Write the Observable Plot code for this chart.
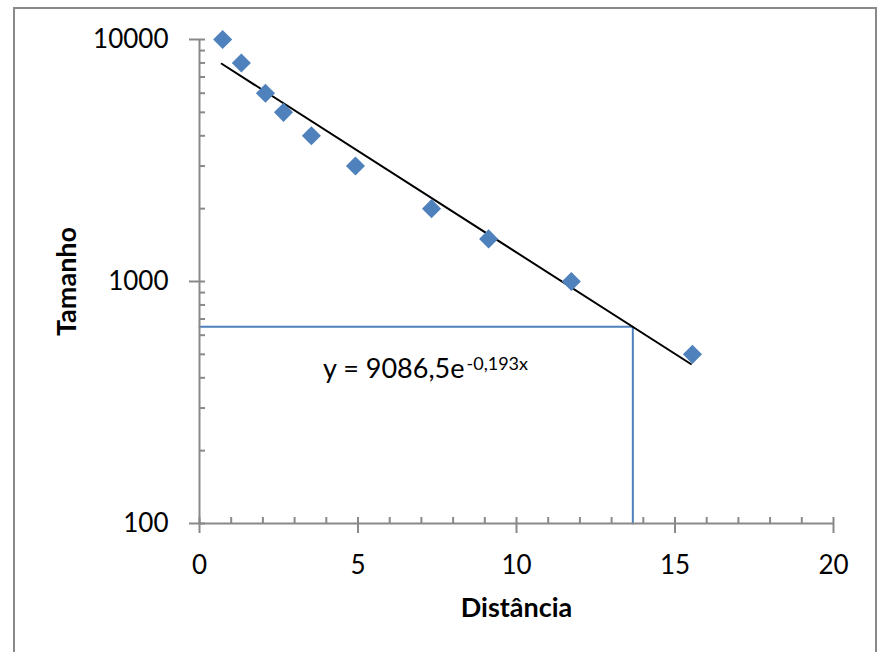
<!DOCTYPE html>
<html>
<head>
<meta charset="utf-8">
<script src="https://cdn.jsdelivr.net/npm/d3@7"></script>
<script src="https://cdn.jsdelivr.net/npm/@observablehq/plot@0.6"></script>
<style>
  html, body { margin: 0; padding: 0; background: #fff; }
  #wrap { position: relative; width: 881px; height: 652px; overflow: hidden; }
  #border { position: absolute; left: 13px; top: 7px; width: 864px; height: 700px; border: 2px solid #898989; box-sizing: border-box; pointer-events: none; }
  #chart { position: absolute; left: 0; top: 0; }
</style>
</head>
<body>
<div id="wrap"><div id="chart"></div><div id="border"></div></div>
<script>
// Data
const distancia = [0.73, 1.32, 2.08, 2.65, 3.53, 4.92, 7.32, 9.12, 11.73, 15.55];
const tamanho   = [10000, 8000, 6000, 5000, 4000, 3000, 2000, 1500, 1000, 500];

// Exponential trend line (straight on log scale): end points
const trendX = [0.7, 15.5];
const trendY = [7940, 456];

// Guide lines (blue)
const guideX = 13.67;
const guideY = 650;

// Ticks
const xMajor = [0, 5, 10, 15, 20];
const xMinor = [1, 2, 3, 4, 6, 7, 8, 9, 11, 12, 13, 14, 16, 17, 18, 19];
const yMajor = [100, 1000, 10000];
const yMinor = [200, 300, 400, 500, 600, 700, 800, 900, 2000, 3000, 4000, 5000, 6000, 7000, 8000, 9000];

const equationMain = "y = 9086,5e";
const equationSup = "-0,193x";
const xTitle = "Distância";
const yTitle = "Tamanho";

const points = distancia.map((d, i) => ({x: d, y: tamanho[i]}));
const trend = trendX.map((d, i) => ({x: d, y: trendY[i]}));
const guide = [{x: 0, y: guideY}, {x: guideX, y: guideY}, {x: guideX, y: 100}];

const axisColor = "#898989";
const blue = "#4F81BD";

const chart = Plot.plot({
  width: 881,
  height: 652,
  marginLeft: 199,
  marginRight: 48,
  marginTop: 39,
  marginBottom: 129,
  style: {fontFamily: "Lato, 'Open Sans', sans-serif", fontSize: "26px", color: "#000", background: "transparent"},
  x: {domain: [0, 20], axis: null},
  y: {type: "log", domain: [100, 10000], axis: null},
  marks: [
    // guide lines
    Plot.line(guide, {x: "x", y: "y", stroke: blue, strokeWidth: 2}),
    // axis lines
    Plot.ruleY([100], {stroke: axisColor, strokeWidth: 2}),
    Plot.ruleX([0], {stroke: axisColor, strokeWidth: 2}),
    // y ticks
    Plot.axisY({ticks: yMinor, tickSize: 6, dx: 6, tickFormat: () => "", stroke: axisColor, strokeWidth: 2, label: null}),
    Plot.axisY({ticks: yMajor, tickSize: 16, dx: 6, tickFormat: () => "", stroke: axisColor, strokeWidth: 2, label: null}),
    Plot.axisY({ticks: yMajor, tickSize: 0, tickPadding: 31, tickFormat: d => String(d), fontSize: 26, fill: "#000", label: null}),
    // x ticks
    Plot.axisX({ticks: xMinor, tickSize: 6, dy: -6, tickFormat: () => "", stroke: axisColor, strokeWidth: 2, label: null}),
    Plot.axisX({ticks: xMajor, tickSize: 16, dy: -6, tickFormat: () => "", stroke: axisColor, strokeWidth: 2, label: null}),
    Plot.axisX({ticks: xMajor, tickSize: 0, tickPadding: 32, tickFormat: d => String(d), fontSize: 26, fill: "#000", label: null}),
    // trend line
    Plot.line(trend, {x: "x", y: "y", stroke: "#000", strokeWidth: 2}),
    // data points
    Plot.dot(points, {x: "x", y: "y", symbol: "diamond2", r: 8.6, fill: blue, stroke: null}),
    // equation
    Plot.text([equationMain], {frameAnchor: "top-left", dx: 265, dy: 329.4, textAnchor: "end", lineAnchor: "middle", fontSize: 27, fill: "#000"}),
    Plot.text([equationSup], {frameAnchor: "top-left", dx: 267, dy: 325.2, textAnchor: "start", lineAnchor: "middle", fontSize: 18, fill: "#000"}),
    // axis titles
    Plot.text([xTitle], {frameAnchor: "bottom", dy: 85, textAnchor: "middle", lineAnchor: "middle", fontSize: 27, fontWeight: "bold", fill: "#000"}),
    Plot.text([yTitle], {frameAnchor: "left", dx: -132, rotate: -90, textAnchor: "middle", lineAnchor: "middle", fontSize: 27, fontWeight: "bold", fill: "#000"})
  ]
});
document.getElementById("chart").appendChild(chart);
</script>
</body>
</html>
